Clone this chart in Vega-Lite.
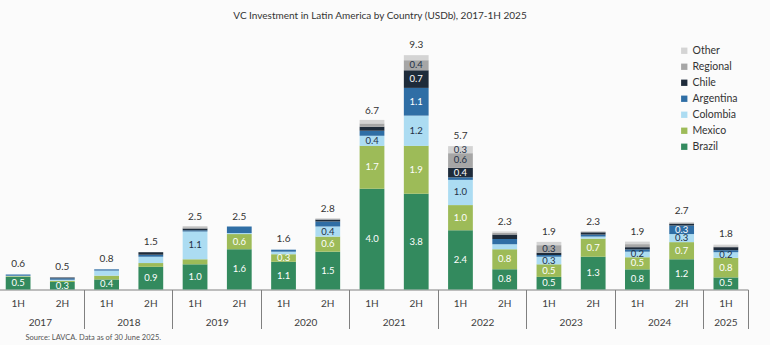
{
  "$schema": "https://vega.github.io/schema/vega-lite/v6.json",
  "width": 752,
  "height": 252,
  "autosize": {"type": "none"},
  "padding": {"left": -4, "top": 37.5, "right": 22, "bottom": 55.5},
  "background": "#fbfbfb",
  "config": {"view": {"stroke": null}, "font": "Lato"},
  "title": {
    "text": "VC Investment in Latin America by Country (USDb), 2017-1H 2025",
    "font": "Lato", "fontSize": 10, "fontWeight": "normal", "color": "#333333",
    "anchor": "middle", "dx": 8, "offset": 17
  },
  "datasets": {
    "seg": [
      {"period": "2017 1H", "country": "Brazil", "rank": 1, "value": 0.5, "lbl": "0.5"},
      {"period": "2017 1H", "country": "Mexico", "rank": 2, "value": 0.03, "lbl": ""},
      {"period": "2017 1H", "country": "Colombia", "rank": 3, "value": 0.02, "lbl": ""},
      {"period": "2017 1H", "country": "Argentina", "rank": 4, "value": 0.05, "lbl": ""},
      {"period": "2017 2H", "country": "Brazil", "rank": 1, "value": 0.3, "lbl": "0.3"},
      {"period": "2017 2H", "country": "Mexico", "rank": 2, "value": 0.05, "lbl": ""},
      {"period": "2017 2H", "country": "Colombia", "rank": 3, "value": 0.04, "lbl": ""},
      {"period": "2017 2H", "country": "Argentina", "rank": 4, "value": 0.06, "lbl": ""},
      {"period": "2017 2H", "country": "Chile", "rank": 5, "value": 0.03, "lbl": ""},
      {"period": "2018 1H", "country": "Brazil", "rank": 1, "value": 0.4, "lbl": "0.4"},
      {"period": "2018 1H", "country": "Mexico", "rank": 2, "value": 0.15, "lbl": ""},
      {"period": "2018 1H", "country": "Colombia", "rank": 3, "value": 0.2, "lbl": ""},
      {"period": "2018 1H", "country": "Argentina", "rank": 4, "value": 0.05, "lbl": ""},
      {"period": "2018 2H", "country": "Brazil", "rank": 1, "value": 0.9, "lbl": "0.9"},
      {"period": "2018 2H", "country": "Mexico", "rank": 2, "value": 0.15, "lbl": ""},
      {"period": "2018 2H", "country": "Colombia", "rank": 3, "value": 0.25, "lbl": ""},
      {"period": "2018 2H", "country": "Argentina", "rank": 4, "value": 0.08, "lbl": ""},
      {"period": "2018 2H", "country": "Chile", "rank": 5, "value": 0.1, "lbl": ""},
      {"period": "2019 1H", "country": "Brazil", "rank": 1, "value": 1.0, "lbl": "1.0"},
      {"period": "2019 1H", "country": "Mexico", "rank": 2, "value": 0.2, "lbl": ""},
      {"period": "2019 1H", "country": "Colombia", "rank": 3, "value": 1.1, "lbl": "1.1"},
      {"period": "2019 1H", "country": "Argentina", "rank": 4, "value": 0.05, "lbl": ""},
      {"period": "2019 1H", "country": "Chile", "rank": 5, "value": 0.07, "lbl": ""},
      {"period": "2019 1H", "country": "Regional", "rank": 6, "value": 0.05, "lbl": ""},
      {"period": "2019 1H", "country": "Other", "rank": 7, "value": 0.05, "lbl": ""},
      {"period": "2019 2H", "country": "Brazil", "rank": 1, "value": 1.6, "lbl": "1.6"},
      {"period": "2019 2H", "country": "Mexico", "rank": 2, "value": 0.6, "lbl": "0.6"},
      {"period": "2019 2H", "country": "Colombia", "rank": 3, "value": 0.04, "lbl": ""},
      {"period": "2019 2H", "country": "Argentina", "rank": 4, "value": 0.26, "lbl": ""},
      {"period": "2020 1H", "country": "Brazil", "rank": 1, "value": 1.1, "lbl": "1.1"},
      {"period": "2020 1H", "country": "Mexico", "rank": 2, "value": 0.3, "lbl": "0.3"},
      {"period": "2020 1H", "country": "Colombia", "rank": 3, "value": 0.1, "lbl": ""},
      {"period": "2020 1H", "country": "Argentina", "rank": 4, "value": 0.08, "lbl": ""},
      {"period": "2020 2H", "country": "Brazil", "rank": 1, "value": 1.5, "lbl": "1.5"},
      {"period": "2020 2H", "country": "Mexico", "rank": 2, "value": 0.6, "lbl": "0.6"},
      {"period": "2020 2H", "country": "Colombia", "rank": 3, "value": 0.4, "lbl": "0.4"},
      {"period": "2020 2H", "country": "Argentina", "rank": 4, "value": 0.2, "lbl": ""},
      {"period": "2020 2H", "country": "Chile", "rank": 5, "value": 0.08, "lbl": ""},
      {"period": "2020 2H", "country": "Other", "rank": 7, "value": 0.05, "lbl": ""},
      {"period": "2021 1H", "country": "Brazil", "rank": 1, "value": 4.0, "lbl": "4.0"},
      {"period": "2021 1H", "country": "Mexico", "rank": 2, "value": 1.7, "lbl": "1.7"},
      {"period": "2021 1H", "country": "Colombia", "rank": 3, "value": 0.4, "lbl": "0.4"},
      {"period": "2021 1H", "country": "Argentina", "rank": 4, "value": 0.2, "lbl": ""},
      {"period": "2021 1H", "country": "Chile", "rank": 5, "value": 0.16, "lbl": ""},
      {"period": "2021 1H", "country": "Regional", "rank": 6, "value": 0.13, "lbl": ""},
      {"period": "2021 1H", "country": "Other", "rank": 7, "value": 0.14, "lbl": ""},
      {"period": "2021 2H", "country": "Brazil", "rank": 1, "value": 3.8, "lbl": "3.8"},
      {"period": "2021 2H", "country": "Mexico", "rank": 2, "value": 1.9, "lbl": "1.9"},
      {"period": "2021 2H", "country": "Colombia", "rank": 3, "value": 1.2, "lbl": "1.2"},
      {"period": "2021 2H", "country": "Argentina", "rank": 4, "value": 1.1, "lbl": "1.1"},
      {"period": "2021 2H", "country": "Chile", "rank": 5, "value": 0.7, "lbl": "0.7"},
      {"period": "2021 2H", "country": "Regional", "rank": 6, "value": 0.4, "lbl": "0.4"},
      {"period": "2021 2H", "country": "Other", "rank": 7, "value": 0.2, "lbl": ""},
      {"period": "2022 1H", "country": "Brazil", "rank": 1, "value": 2.35, "lbl": "2.4"},
      {"period": "2022 1H", "country": "Mexico", "rank": 2, "value": 1.0, "lbl": "1.0"},
      {"period": "2022 1H", "country": "Colombia", "rank": 3, "value": 1.0, "lbl": "1.0"},
      {"period": "2022 1H", "country": "Argentina", "rank": 4, "value": 0.1, "lbl": ""},
      {"period": "2022 1H", "country": "Chile", "rank": 5, "value": 0.38, "lbl": "0.4"},
      {"period": "2022 1H", "country": "Regional", "rank": 6, "value": 0.58, "lbl": "0.6"},
      {"period": "2022 1H", "country": "Other", "rank": 7, "value": 0.28, "lbl": "0.3"},
      {"period": "2022 2H", "country": "Brazil", "rank": 1, "value": 0.8, "lbl": "0.8"},
      {"period": "2022 2H", "country": "Mexico", "rank": 2, "value": 0.8, "lbl": "0.8"},
      {"period": "2022 2H", "country": "Colombia", "rank": 3, "value": 0.2, "lbl": ""},
      {"period": "2022 2H", "country": "Argentina", "rank": 4, "value": 0.2, "lbl": ""},
      {"period": "2022 2H", "country": "Chile", "rank": 5, "value": 0.18, "lbl": ""},
      {"period": "2022 2H", "country": "Regional", "rank": 6, "value": 0.07, "lbl": ""},
      {"period": "2022 2H", "country": "Other", "rank": 7, "value": 0.05, "lbl": ""},
      {"period": "2023 1H", "country": "Brazil", "rank": 1, "value": 0.5, "lbl": "0.5"},
      {"period": "2023 1H", "country": "Mexico", "rank": 2, "value": 0.5, "lbl": "0.5"},
      {"period": "2023 1H", "country": "Colombia", "rank": 3, "value": 0.3, "lbl": "0.3"},
      {"period": "2023 1H", "country": "Argentina", "rank": 4, "value": 0.07, "lbl": ""},
      {"period": "2023 1H", "country": "Chile", "rank": 5, "value": 0.09, "lbl": ""},
      {"period": "2023 1H", "country": "Regional", "rank": 6, "value": 0.3, "lbl": "0.3"},
      {"period": "2023 1H", "country": "Other", "rank": 7, "value": 0.13, "lbl": ""},
      {"period": "2023 2H", "country": "Brazil", "rank": 1, "value": 1.3, "lbl": "1.3"},
      {"period": "2023 2H", "country": "Mexico", "rank": 2, "value": 0.72, "lbl": "0.7"},
      {"period": "2023 2H", "country": "Colombia", "rank": 3, "value": 0.08, "lbl": ""},
      {"period": "2023 2H", "country": "Argentina", "rank": 4, "value": 0.08, "lbl": ""},
      {"period": "2023 2H", "country": "Chile", "rank": 5, "value": 0.09, "lbl": ""},
      {"period": "2023 2H", "country": "Regional", "rank": 6, "value": 0.03, "lbl": ""},
      {"period": "2024 1H", "country": "Brazil", "rank": 1, "value": 0.8, "lbl": "0.8"},
      {"period": "2024 1H", "country": "Mexico", "rank": 2, "value": 0.48, "lbl": "0.5"},
      {"period": "2024 1H", "country": "Colombia", "rank": 3, "value": 0.22, "lbl": "0.2"},
      {"period": "2024 1H", "country": "Argentina", "rank": 4, "value": 0.09, "lbl": ""},
      {"period": "2024 1H", "country": "Chile", "rank": 5, "value": 0.09, "lbl": ""},
      {"period": "2024 1H", "country": "Regional", "rank": 6, "value": 0.12, "lbl": ""},
      {"period": "2024 1H", "country": "Other", "rank": 7, "value": 0.1, "lbl": ""},
      {"period": "2024 2H", "country": "Brazil", "rank": 1, "value": 1.2, "lbl": "1.2"},
      {"period": "2024 2H", "country": "Mexico", "rank": 2, "value": 0.68, "lbl": "0.7"},
      {"period": "2024 2H", "country": "Colombia", "rank": 3, "value": 0.32, "lbl": "0.3"},
      {"period": "2024 2H", "country": "Argentina", "rank": 4, "value": 0.34, "lbl": "0.3"},
      {"period": "2024 2H", "country": "Chile", "rank": 5, "value": 0.07, "lbl": ""},
      {"period": "2024 2H", "country": "Regional", "rank": 6, "value": 0.04, "lbl": ""},
      {"period": "2024 2H", "country": "Other", "rank": 7, "value": 0.03, "lbl": ""},
      {"period": "2025 1H", "country": "Brazil", "rank": 1, "value": 0.48, "lbl": "0.5"},
      {"period": "2025 1H", "country": "Mexico", "rank": 2, "value": 0.78, "lbl": "0.8"},
      {"period": "2025 1H", "country": "Colombia", "rank": 3, "value": 0.22, "lbl": "0.2"},
      {"period": "2025 1H", "country": "Argentina", "rank": 4, "value": 0.08, "lbl": ""},
      {"period": "2025 1H", "country": "Chile", "rank": 5, "value": 0.12, "lbl": ""},
      {"period": "2025 1H", "country": "Regional", "rank": 6, "value": 0.03, "lbl": ""},
      {"period": "2025 1H", "country": "Other", "rank": 7, "value": 0.07, "lbl": ""}
    ],
    "tot": [
      {"period": "2017 1H", "total": 0.6},
      {"period": "2017 2H", "total": 0.5},
      {"period": "2018 1H", "total": 0.8},
      {"period": "2018 2H", "total": 1.5},
      {"period": "2019 1H", "total": 2.5},
      {"period": "2019 2H", "total": 2.5},
      {"period": "2020 1H", "total": 1.6},
      {"period": "2020 2H", "total": 2.8},
      {"period": "2021 1H", "total": 6.7},
      {"period": "2021 2H", "total": 9.3},
      {"period": "2022 1H", "total": 5.7},
      {"period": "2022 2H", "total": 2.3},
      {"period": "2023 1H", "total": 1.9},
      {"period": "2023 2H", "total": 2.3},
      {"period": "2024 1H", "total": 1.9},
      {"period": "2024 2H", "total": 2.7},
      {"period": "2025 1H", "total": 1.8}
    ]
  },
  "layer": [
    {
      "data": {"name": "seg"},
      "transform": [
        {"stack": "value", "groupby": ["period"], "sort": [{"field": "rank"}], "as": ["v0", "v1"]}
      ],
      "mark": {"type": "bar", "width": {"band": 0.56}},
      "encoding": {
        "x": {
          "field": "period", "type": "nominal",
          "scale": {"domain": ["2017 1H","2017 2H","2018 1H","2018 2H","2019 1H","2019 2H","2020 1H","2020 2H","2021 1H","2021 2H","2022 1H","2022 2H","2023 1H","2023 2H","2024 1H","2024 2H","2025 1H"], "paddingInner": 0, "paddingOuter": 0},
          "axis": {
            "orient": "bottom", "title": null, "labelAngle": 0,
            "labelExpr": "split(datum.label, ' ')[1]",
            "ticks": false, "tickSize": 0, "domainColor": "#808080", "domainWidth": 1,
            "labelColor": "#404040", "labelFont": "Lato", "labelFontSize": 10, "labelPadding": 9
          }
        },
        "y": {"field": "v0", "type": "quantitative", "scale": {"domain": [0, 10], "nice": false}, "axis": null},
        "y2": {"field": "v1"},
        "color": {
          "field": "country", "type": "nominal",
          "scale": {
            "domain": ["Other", "Regional", "Chile", "Argentina", "Colombia", "Mexico", "Brazil"],
            "range": ["#d4d4d4", "#a6a6a6", "#1e2b3a", "#2f6ea5", "#acdcf2", "#9dbb58", "#338a5e"]
          },
          "legend": {
            "title": null, "orient": "none", "legendX": 683, "legendY": 8, "padding": 0,
            "symbolType": "square", "symbolSize": 40, "symbolStrokeWidth": 0,
            "labelFont": "Lato", "labelFontSize": 10.5, "labelColor": "#333333", "rowPadding": 5, "labelOffset": 3
          }
        }
      }
    },
    {
      "data": {"name": "seg"},
      "transform": [
        {"stack": "value", "groupby": ["period"], "sort": [{"field": "rank"}], "as": ["v0", "v1"]},
        {"calculate": "(datum.v0 + datum.v1) / 2", "as": "mid"},
        {"filter": "datum.lbl != ''"}
      ],
      "mark": {"type": "text", "font": "Lato", "fontSize": 9.5, "baseline": "middle", "align": "center"},
      "encoding": {
        "x": {"field": "period", "type": "nominal", "axis": null},
        "y": {"field": "mid", "type": "quantitative", "axis": null},
        "text": {"field": "lbl"},
        "color": {
          "condition": {"test": "datum.country === 'Colombia' || datum.country === 'Regional' || datum.country === 'Other'", "value": "#1f2f45"},
          "value": "#ffffff"
        }
      }
    },
    {
      "data": {"name": "tot"},
      "mark": {"type": "text", "font": "Lato", "fontSize": 10, "baseline": "bottom", "dy": -5, "color": "#333333"},
      "encoding": {
        "x": {
          "field": "period", "type": "nominal",
          "axis": {
            "orient": "bottom",
            "values": ["2017 2H","2018 2H","2019 2H","2020 2H","2021 2H","2022 2H","2023 2H","2024 2H","2025 1H"],
            "bandPosition": 1,
            "labelExpr": "slice(datum.label, 0, 4)",
            "labelAngle": 0,
            "labelOffset": {"condition": {"test": "datum.value === '2025 1H'", "value": 0}, "value": -22},
            "labelPadding": -11,
            "labelColor": "#404040", "labelFont": "Lato", "labelFontSize": 10,
            "domain": false, "ticks": true, "tickSize": 39, "tickColor": "#808080", "tickWidth": 1,
            "title": "Source: LAVCA. Data as of 30 June 2025.",
            "titleFont": "Lato", "titleFontSize": 7.5, "titleFontWeight": "normal", "titleColor": "#555555",
            "titleAnchor": "start", "titleAlign": "left", "titleBaseline": "middle", "titleX": 29, "titleY": 48
          }
        },
        "y": {"field": "total", "type": "quantitative", "axis": null},
        "text": {"field": "total", "format": ".1f"}
      }
    }
  ],
  "resolve": {"axis": {"x": "independent"}}
}
